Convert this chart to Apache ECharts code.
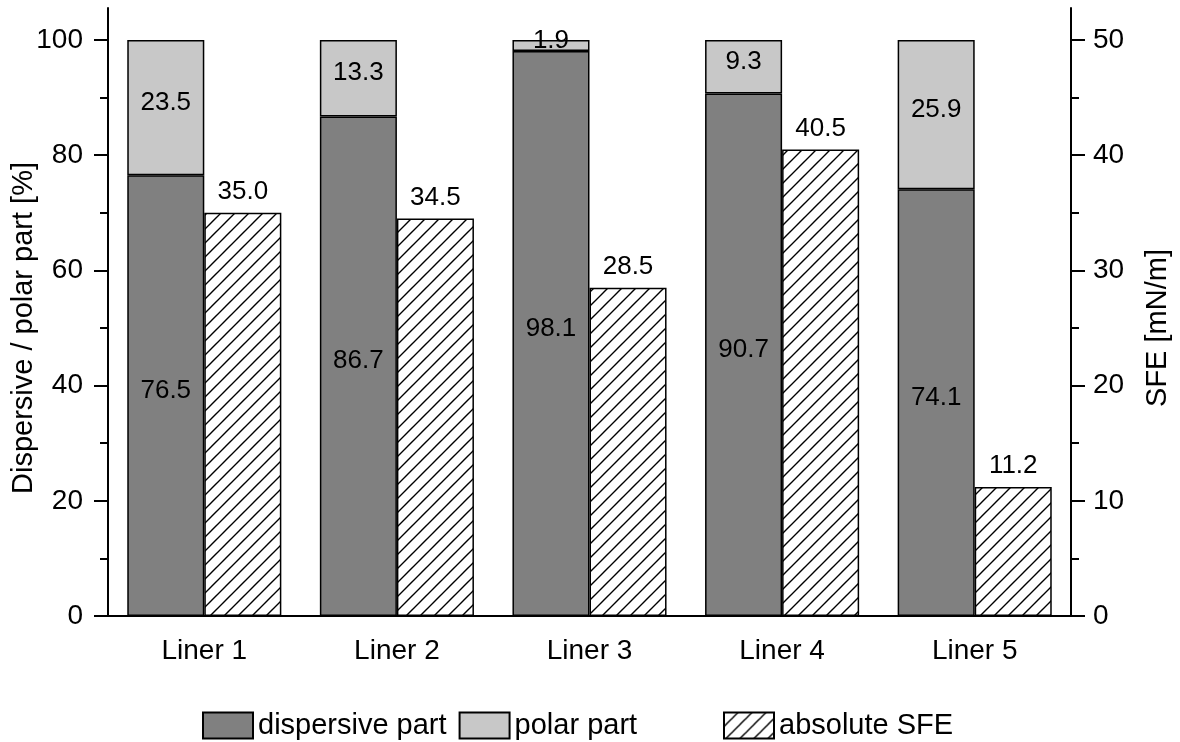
<!DOCTYPE html>
<html>
<head>
<meta charset="utf-8">
<script src="https://cdn.jsdelivr.net/npm/echarts@6/dist/echarts.min.js"></script>
<style>html,body{margin:0;padding:0;background:#fff}#c{width:1180px;height:742px}</style>
</head>
<body>
<div id="c"></div>
<script>
const categories = ['Liner 1', 'Liner 2', 'Liner 3', 'Liner 4', 'Liner 5'];
const dispersive = [76.5, 86.7, 98.1, 90.7, 74.1];
const polar = [23.5, 13.3, 1.9, 9.3, 25.9];
const sfe = [35.0, 34.5, 28.5, 40.5, 11.2];
const leftTicks = [0, 20, 40, 60, 80, 100];
const rightTicks = [0, 10, 20, 30, 40, 50];

const FONT = '"Liberation Sans", Arial, sans-serif';
const TXT = '#000';

function hatch() {
  const s = 14;
  const c = document.createElement('canvas');
  c.width = s; c.height = s;
  const g = c.getContext('2d');
  g.fillStyle = '#fff'; g.fillRect(0, 0, s, s);
  g.strokeStyle = '#000'; g.lineWidth = 1.4;
  g.beginPath();
  g.moveTo(0, s); g.lineTo(s, 0);
  g.moveTo(-s/2, s/2); g.lineTo(s/2, -s/2);
  g.moveTo(s/2, s*1.5); g.lineTo(s*1.5, s/2);
  g.stroke();
  return c;
}
const hatchPattern = { image: hatch(), repeat: 'repeat' };

const chart = echarts.init(document.getElementById('c'), null, { renderer: 'canvas' });

const labelStyle = { color: TXT, fontSize: 26, fontFamily: FONT };
const tickStyle = { color: '#000', width: 2 };

const option = {
  animation: false,
  textStyle: { fontFamily: FONT, color: TXT },
  grid: [
    { left: 108, right: 109, top: 40, bottom: 126, containLabel: false, outerBoundsMode: 'none' },
    { left: 108, right: 109, top: 8, bottom: 126, containLabel: false, outerBoundsMode: 'none' }
  ],
  legend: [
    {
      left: 197, top: 706, itemWidth: 50, itemHeight: 26, itemGap: 12, icon: 'rect',
      data: ['dispersive part', 'polar part'],
      textStyle: { fontSize: 29, color: TXT, fontFamily: FONT }
    },
    {
      left: 718, top: 706, itemWidth: 50, itemHeight: 26, icon: 'rect',
      data: ['absolute SFE'],
      textStyle: { fontSize: 29, color: TXT, fontFamily: FONT }
    }
  ],
  xAxis: [
    {
      type: 'category', gridIndex: 0, data: categories, position: 'bottom',
      axisLine: { lineStyle: { color: '#000', width: 2 } },
      axisTick: { alignWithLabel: true, length: 15, lineStyle: tickStyle },
      axisLabel: { fontSize: 28, color: TXT, fontFamily: FONT, margin: 21 }
    },
    {
      type: 'category', gridIndex: 0, data: categories, position: 'bottom',
      axisLine: { show: false },
      axisTick: { alignWithLabel: false, length: 8, lineStyle: tickStyle },
      axisLabel: { show: false }
    },
    {
      type: 'category', gridIndex: 1, data: categories, show: false
    }
  ],
  yAxis: [
    {
      type: 'value', gridIndex: 0, position: 'left', min: 0, max: 100, interval: 20,
      name: 'Dispersive / polar part [%]', nameLocation: 'middle', nameGap: 70, nameMoveOverlap: false,
      nameTextStyle: { fontSize: 29, color: TXT, fontFamily: FONT },
      axisLine: { show: true, lineStyle: { color: '#000', width: 2 } },
      axisTick: { show: true, length: 14, lineStyle: tickStyle },
      minorTick: { show: true, splitNumber: 2, length: 8, lineStyle: tickStyle },
      axisLabel: { fontSize: 28, color: TXT, fontFamily: FONT, margin: 25, customValues: leftTicks },
      splitLine: { show: false }
    },
    {
      type: 'value', gridIndex: 0, position: 'right', min: 0, max: 50, interval: 10,
      name: 'SFE [mN/m]', nameLocation: 'middle', nameGap: 72, nameRotate: 90, nameMoveOverlap: false,
      nameTextStyle: { fontSize: 29, color: TXT, fontFamily: FONT },
      axisLine: { show: true, lineStyle: { color: '#000', width: 2 } },
      axisTick: { show: true, length: 14, lineStyle: tickStyle },
      minorTick: { show: true, splitNumber: 2, length: 8, lineStyle: tickStyle },
      axisLabel: { fontSize: 28, color: TXT, fontFamily: FONT, margin: 22, customValues: rightTicks },
      splitLine: { show: false }
    },
    {
      type: 'value', gridIndex: 1, position: 'left', min: 0, max: 100,
      axisLine: { show: true, lineStyle: { color: '#000', width: 2 } },
      axisTick: { show: false }, axisLabel: { show: false }, splitLine: { show: false }
    },
    {
      type: 'value', gridIndex: 1, position: 'right', min: 0, max: 100,
      axisLine: { show: true, lineStyle: { color: '#000', width: 2 } },
      axisTick: { show: false }, axisLabel: { show: false }, splitLine: { show: false }
    }
  ],
  series: [
    {
      name: 'dispersive part', type: 'bar', stack: 'pct', xAxisIndex: 0, yAxisIndex: 0,
      data: dispersive, barGap: '0%', barCategoryGap: '20%',
      itemStyle: { color: '#808080', borderColor: '#000', borderWidth: 1.5 },
      label: Object.assign({ show: true, position: 'inside', offset: [0, -5], formatter: p => p.value.toFixed(1) }, labelStyle)
    },
    {
      name: 'polar part', type: 'bar', stack: 'pct', xAxisIndex: 0, yAxisIndex: 0,
      data: polar, barGap: '0%', barCategoryGap: '20%',
      itemStyle: { color: '#c8c8c8', borderColor: '#000', borderWidth: 1.5 },
      label: Object.assign({ show: true, position: 'inside', offset: [0, -5], formatter: p => p.value.toFixed(1) }, labelStyle)
    },
    {
      name: 'absolute SFE', type: 'bar', xAxisIndex: 0, yAxisIndex: 1,
      data: sfe, barGap: '0%', barCategoryGap: '20%',
      itemStyle: { color: hatchPattern, borderColor: '#000', borderWidth: 1.5 },
      label: Object.assign({ show: true, position: 'top', distance: 8, formatter: p => p.value.toFixed(1) }, labelStyle)
    }
  ]
};
chart.setOption(option);
</script>
</body>
</html>
